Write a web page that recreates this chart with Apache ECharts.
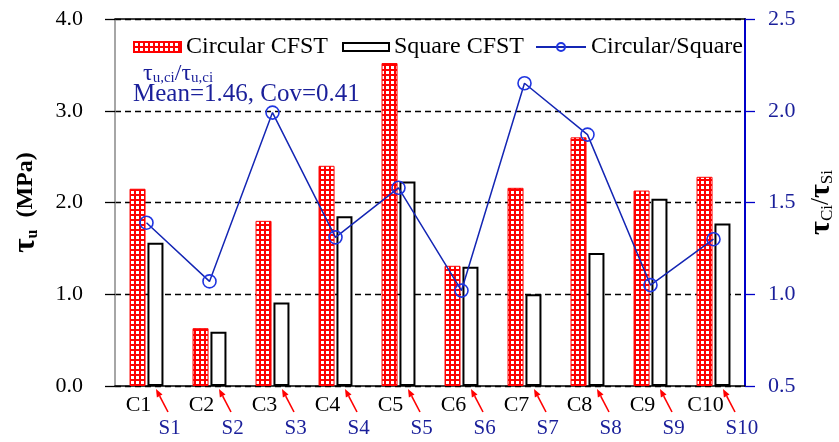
<!DOCTYPE html>
<html>
<head>
<meta charset="utf-8">
<script src="https://cdn.jsdelivr.net/npm/echarts@6/dist/echarts.min.js"></script>
<style>html,body{margin:0;padding:0;background:#fff;}#c{width:839px;height:442px;}</style>
</head>
<body>
<div id="c"></div>
<script>
const categories = ['C1','C2','C3','C4','C5','C6','C7','C8','C9','C10'];
const squareLabels = ['S1','S2','S3','S4','S5','S6','S7','S8','S9','S10'];
const circularCFST = [2.15, 0.63, 1.80, 2.40, 3.52, 1.31, 2.16, 2.71, 2.13, 2.28];
const squareCFST = [1.56, 0.59, 0.91, 1.85, 2.23, 1.30, 1.00, 1.45, 2.04, 1.77];
const ratio = [1.39, 1.07, 1.99, 1.31, 1.58, 1.02, 2.15, 1.87, 1.05, 1.30];

const FONT = '"Liberation Serif", "Times New Roman", serif';
const NAVY = '#1a1f9a';

// red grid hatch pattern
const pc = document.createElement('canvas');
pc.width = 5; pc.height = 5;
const g = pc.getContext('2d');
g.fillStyle = '#ff0000'; g.fillRect(0, 0, 5, 5);
g.fillStyle = '#ffffff'; g.fillRect(1, 1, 3, 3);
const hatch = { image: pc, repeat: 'repeat' };

const chart = echarts.init(document.getElementById('c'), null, { renderer: 'canvas' });

const option = {
  animation: false,
  backgroundColor: '#fff',
  grid: { left: 115, right: 94, top: 19, bottom: 56, containLabel: false, outerBoundsMode: 'none' },
  legend: [
    { left: 128, top: 30, itemWidth: 47, itemHeight: 10, icon: 'rect', data: ['Circular CFST'],
      textStyle: { fontFamily: FONT, fontSize: 24, color: '#000' } },
    { left: 337, top: 30, itemWidth: 46, itemHeight: 8, icon: 'rect', data: ['Square CFST'],
      textStyle: { fontFamily: FONT, fontSize: 24, color: '#000' } },
    { left: 530, top: 30, itemWidth: 50, itemHeight: 10, data: ['Circular/Square'],
      textStyle: { fontFamily: FONT, fontSize: 24, color: '#000' } }
  ],
  xAxis: [
    { type: 'category', data: categories, boundaryGap: true,
      axisLine: { lineStyle: { color: '#000', width: 1.5 } },
      axisTick: { show: false }, axisLabel: { show: false }, splitLine: { show: false } },
    { type: 'category', data: categories, position: 'top', boundaryGap: true,
      axisLine: { lineStyle: { color: '#000', width: 1.5 } },
      axisTick: { show: false }, axisLabel: { show: false }, splitLine: { show: false } }
  ],
  yAxis: [
    { type: 'value', min: 0, max: 4, interval: 1, position: 'left',
      axisLine: { show: true, lineStyle: { color: '#888', width: 1.5 } },
      axisTick: { show: true, length: 10, lineStyle: { color: '#000', width: 1.3 } },
      axisLabel: { formatter: v => v.toFixed(1), fontFamily: FONT, fontSize: 22, color: '#000', margin: 32 },
      splitLine: { show: true, lineStyle: { color: '#000', width: 1.3, type: [6, 4] } },
      name: '{t|τ}{s|u}{n|  (MPa)}', nameLocation: 'middle', nameRotate: 90, nameGap: 74,
      nameTextStyle: { rich: {
        t: { fontFamily: FONT, fontSize: 31, fontWeight: 'bold', lineHeight: 30, color: '#000' },
        s: { fontFamily: FONT, fontSize: 16, fontWeight: 'bold', lineHeight: 14, verticalAlign: 'bottom', color: '#000' },
        n: { fontFamily: FONT, fontSize: 24, fontWeight: 'bold', lineHeight: 30, color: '#000' }
      } } },
    { type: 'value', min: 0.5, max: 2.5, interval: 0.5, position: 'right',
      axisLine: { show: true, lineStyle: { color: '#0000c8', width: 2 } },
      axisTick: { show: true, length: 10, lineStyle: { color: '#0000c8', width: 1.3 } },
      axisLabel: { formatter: v => v.toFixed(1), fontFamily: FONT, fontSize: 22, color: NAVY, margin: 23 },
      splitLine: { show: false },
      name: '{t|τ}{s|Ci}{n|/}{t|τ}{s|Si}', nameLocation: 'middle', nameRotate: 90, nameGap: 61,
      nameTextStyle: { rich: {
        t: { fontFamily: FONT, fontSize: 30, fontWeight: 'bold', lineHeight: 30, color: '#000' },
        s: { fontFamily: FONT, fontSize: 17, lineHeight: 15, verticalAlign: 'bottom', color: '#000' },
        n: { fontFamily: FONT, fontSize: 25, lineHeight: 30, color: '#000' }
      } } }
  ],
  series: [
    { name: 'Circular CFST', type: 'bar', xAxisIndex: 0, yAxisIndex: 0, data: circularCFST,
      barWidth: 16, barGap: '12%',
      itemStyle: { color: hatch, borderColor: '#ff0000', borderWidth: 1 } },
    { name: 'Square CFST', type: 'bar', xAxisIndex: 0, yAxisIndex: 0, data: squareCFST,
      barWidth: 16,
      itemStyle: { color: '#fff', borderColor: '#000', borderWidth: 2 } },
    { name: 'Circular/Square', type: 'line', xAxisIndex: 0, yAxisIndex: 1, data: ratio,
      symbol: 'circle', symbolSize: 13, z: 5,
      lineStyle: { color: '#1426b4', width: 1.5 },
      itemStyle: { color: 'rgba(255,255,255,0)', borderColor: '#1f35e0', borderWidth: 1.6 } },
    { name: 'labels', type: 'custom', xAxisIndex: 0, yAxisIndex: 0, clip: false, silent: true, z: 10,
      data: categories.map((c, i) => [i]),
      renderItem: function (params, api) {
        const i = api.value(0);
        const p = api.coord([i, 0]);
        const cx = p[0], y0 = p[1];
        const tx = cx + 21.5, ty = y0 + 26, hx = cx + 9.5, hy = y0 + 3;
        const dx = hx - tx, dy = hy - ty, len = Math.sqrt(dx * dx + dy * dy);
        const ux = dx / len, uy = dy / len;
        const hl = 8, hw = 3.2;
        const bx = hx - ux * hl, by = hy - uy * hl;
        return { type: 'group', children: [
          { type: 'text', style: { text: categories[i], x: cx - 8, y: y0 + 19, align: 'center', verticalAlign: 'middle',
              fontFamily: FONT, fontSize: 22, fill: '#000' } },
          { type: 'text', style: { text: squareLabels[i], x: cx + 12, y: y0 + 42, align: 'left', verticalAlign: 'middle',
              fontFamily: FONT, fontSize: 21, fill: NAVY } },
          { type: 'line', shape: { x1: tx, y1: ty, x2: bx, y2: by }, style: { stroke: '#ff0000', lineWidth: 1.6 } },
          { type: 'polygon', shape: { points: [[hx, hy], [bx - uy * hw, by + ux * hw], [bx + uy * hw, by - ux * hw]] },
            style: { fill: '#ff0000' } }
        ] };
      } }
  ],
  graphic: [
    { type: 'text', x: 143, y: 74, style: { text: '{t|τ}{s|u,ci}{t|/τ}{s|u,ci}', verticalAlign: 'middle',
        rich: {
          t: { fontFamily: FONT, fontSize: 24, lineHeight: 24, fill: NAVY, color: NAVY },
          s: { fontFamily: FONT, fontSize: 15, lineHeight: 14, verticalAlign: 'bottom', fill: NAVY, color: NAVY }
        } } },
    { type: 'text', x: 133, y: 94, style: { text: 'Mean=1.46, Cov=0.41', fontFamily: FONT, fontSize: 25,
        verticalAlign: 'middle', fill: NAVY } }
  ]
};
chart.setOption(option);
</script>
</body>
</html>
